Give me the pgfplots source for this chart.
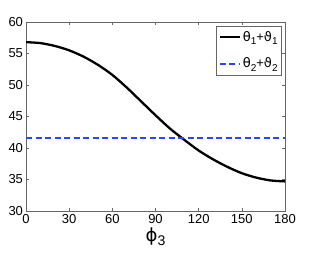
\documentclass[border=0pt]{standalone}
\usepackage{fontspec}
\setmainfont{Liberation Sans}
\newfontfamily\gr{DejaVu Sans}
\usepackage{pgfplots}
\pgfplotsset{compat=1.18}
\newcommand{\sub}[1]{\raisebox{-0.45ex}{\fontsize{10}{11}\selectfont #1}}
\begin{document}
\fontsize{13}{15}\selectfont
\begin{tikzpicture}
\path[use as bounding box] (-26pt,-43pt) rectangle (290pt,211pt);
\begin{axis}[
  at={(0,0)}, anchor=south west,
  scale only axis, width=259pt, height=189pt,
  xmin=0, xmax=180, ymin=30, ymax=60,
  xtick={0,30,...,180}, ytick={30,35,...,60},
  tick align=inside, major tick length=3pt,
  axis line style={gray!80!black, line width=0.6pt},
  tick style={gray!80!black, line width=0.5pt},
  /pgf/number format/assume math mode=true,
  ticklabel style={font=\fontsize{13}{15}\selectfont},
  xticklabel style={yshift=1pt},
  yticklabel style={xshift=1.5pt},
  xlabel={\fontsize{18}{19}\selectfont{\gr ϕ}\raisebox{-0.4ex}{\fontsize{14}{15}\selectfont 3}},
  xlabel style={yshift=5pt},
  legend style={at={(0.988,0.98)}, anchor=north east, draw=gray!80!black, line width=0.6pt,
    font=\fontsize{13}{15}\selectfont, inner xsep=2pt, inner ysep=3pt, row sep=11pt,
    cells={anchor=west}},
  legend image code/.code={\draw[#1] (0pt,0pt) -- (20pt,0pt);},
]
\addplot[black, line width=2.3pt, smooth] coordinates {
(0,56.8) (10,56.65) (20,56.2) (30,55.5) (40,54.5) (50,53.2) (60,51.6) (70,49.6)
(80,47.4) (90,45.2) (100,43.1) (110,41.3) (120,39.6) (130,38.2) (140,37.0)
(150,36.0) (160,35.3) (170,34.85) (180,34.7)};
\addlegendentry{{\gr θ}\sub{1}+{\gr ϑ}\sub{1}}
\addplot[color={rgb,255:red,40;green,70;blue,255}, line width=2pt, dash pattern=on 6pt off 3.5pt] coordinates {(0,41.6) (180,41.6)};
\addlegendentry{{\gr θ}\sub{2}+{\gr ϑ}\sub{2}}
\end{axis}
\end{tikzpicture}
\end{document}
